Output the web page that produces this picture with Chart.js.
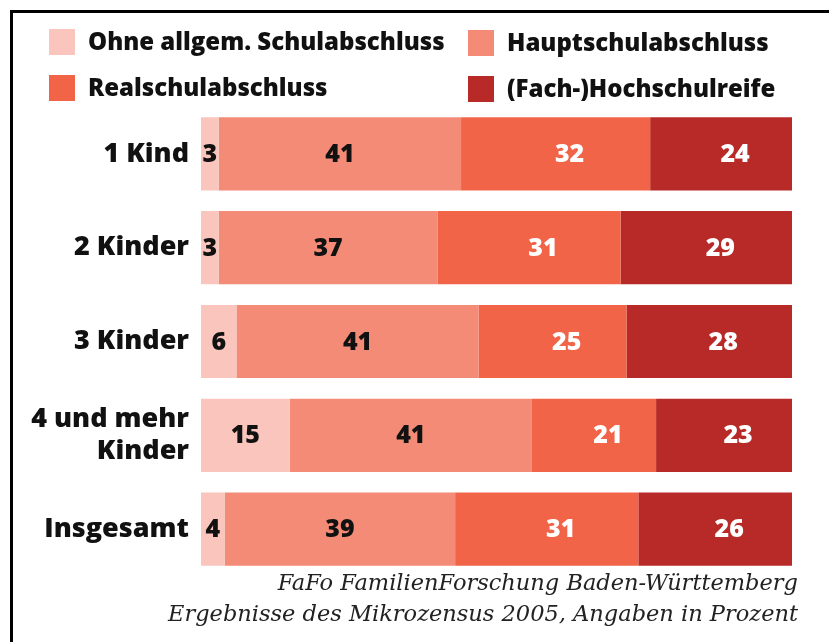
<!DOCTYPE html>
<html>
<head>
<meta charset="utf-8">
<script src="https://cdn.jsdelivr.net/npm/chart.js@4"></script>
<style>
  html, body { margin: 0; padding: 0; background: #fff; }
  #wrap { position: relative; width: 829px; height: 642px; overflow: hidden; }
  #frame { position: absolute; left: 10px; top: 10px; width: 830px; height: 640px;
           border-left: 3px solid #000; border-top: 3px solid #000; box-sizing: border-box; }
  #chart { position: absolute; left: 0; top: 0; }
  .leg { position: absolute; font-family: "Open Sans", sans-serif; font-weight: 800;
         font-size: 24px; color: #111; white-space: nowrap; line-height: 26px; }
  .leg span.box { position: absolute; left: 0; top: 0; width: 26px; height: 26px; }
  .leg span.txt { position: absolute; left: 39px; top: -1px; }
  #source { position: absolute; right: 31px; top: 567px; text-align: right;
            font-family: "DejaVu Serif", serif; font-style: italic; font-size: 22.5px;
            line-height: 31px; color: #222; }
</style>
</head>
<body>
<div id="wrap">
  <div id="frame"></div>
  <canvas id="chart" width="829" height="642"></canvas>
  <div id="legend"></div>
  <div id="source">FaFo FamilienForschung Baden-Württemberg<br>Ergebnisse des Mikrozensus 2005, Angaben in Prozent</div>
</div>
<script>
// Categories and values (percent)
const categories = [['1 Kind'], ['2 Kinder'], ['3 Kinder'], ['4 und mehr', 'Kinder'], ['Insgesamt']];
const seriesNames = ['Ohne allgem. Schulabschluss', 'Hauptschulabschluss', 'Realschulabschluss', '(Fach-)Hochschulreife'];
const ohne = [3, 3, 6, 15, 4];
const haupt = [41, 37, 41, 41, 39];
const real = [32, 31, 25, 21, 31];
const hochschul = [24, 29, 28, 23, 26];

const colors = ['#f9c5bc', '#f48b76', '#f16448', '#b82a27'];
const labelColors = ['#111', '#111', '#fff', '#fff'];
const labelShift = [0, 0, 14, 14];

// legend placed in two columns
const legendPos = [[49, 29], [468, 30], [49, 75], [468, 76]];
const legendEl = document.getElementById('legend');
seriesNames.forEach((name, i) => {
    const item = document.createElement('div');
    item.className = 'leg';
    item.style.left = legendPos[i][0] + 'px';
    item.style.top = legendPos[i][1] + 'px';
    item.innerHTML = '<span class="box" style="background:' + colors[i] + '"></span><span class="txt">' + name + '</span>';
    legendEl.appendChild(item);
});

// draw values inside the segments
const valueLabels = {
    id: 'valueLabels',
    afterDatasetsDraw(chart) {
        const ctx = chart.ctx;
        ctx.save();
        ctx.font = '800 25px "Open Sans", sans-serif';
        ctx.textAlign = 'center';
        ctx.textBaseline = 'middle';
        chart.data.datasets.forEach((ds, i) => {
            const meta = chart.getDatasetMeta(i);
            meta.data.forEach((bar, j) => {
                const left = Math.min(bar.x, bar.base);
                const right = Math.max(bar.x, bar.base);
                ctx.fillStyle = labelColors[i];
                ctx.fillText(ds.data[j], (left + right) / 2 + labelShift[i], bar.y + 1);
            });
        });
        ctx.restore();
    }
};

const values = [ohne, haupt, real, hochschul];
new Chart(document.getElementById('chart'), {
    type: 'bar',
    data: {
        labels: categories,
        datasets: values.map((v, i) => ({
            label: seriesNames[i],
            data: v,
            backgroundColor: colors[i],
            borderWidth: 0,
            categoryPercentage: 0.78,
            barPercentage: 1.0
        }))
    },
    options: {
        indexAxis: 'y',
        responsive: false,
        animation: false,
        layout: { padding: { top: 107, bottom: 66, right: 37, left: 0 } },
        plugins: { legend: { display: false }, tooltip: { enabled: false } },
        scales: {
            x: { stacked: true, min: 0, max: 100, display: false },
            y: {
                stacked: true,
                grid: { display: false },
                border: { display: false },
                ticks: {
                    color: '#111',
                    padding: 4,
                    font: { family: '"Open Sans", sans-serif', weight: '800', size: 27, lineHeight: 1.15 }
                },
                afterFit(scale) { scale.width = 201; }
            }
        }
    },
    plugins: [valueLabels]
});
</script>
</body>
</html>
